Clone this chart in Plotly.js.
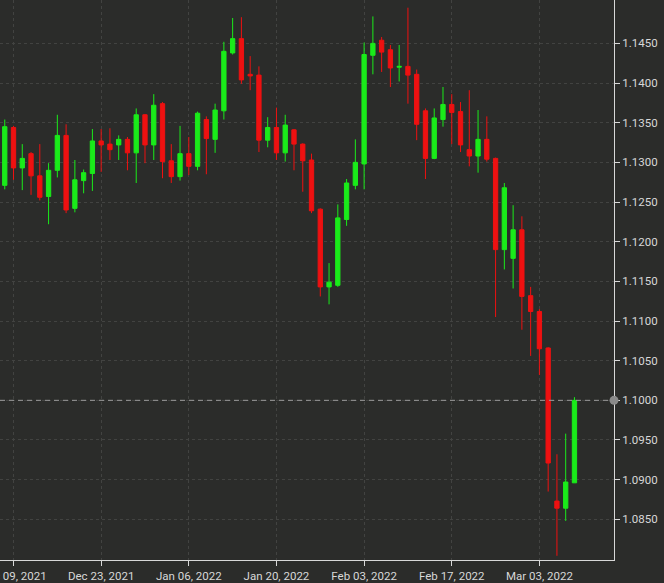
<!DOCTYPE html>
<html>
<head>
<meta charset="utf-8">
<script src="https://cdn.plot.ly/plotly-3.0.1.min.js"></script>
<style>
  html, body { margin: 0; padding: 0; background: #2b2c2a; }
  #chart { width: 664px; height: 583px; }
</style>
</head>
<body>
<div id="chart"></div>
<script>
// EUR/USD daily candles
const dates = [
  '2021-12-08','2021-12-09','2021-12-10','2021-12-13','2021-12-14','2021-12-15','2021-12-16','2021-12-17',
  '2021-12-20','2021-12-21','2021-12-22','2021-12-23','2021-12-24','2021-12-27','2021-12-28','2021-12-29',
  '2021-12-30','2021-12-31','2022-01-03','2022-01-04','2022-01-05','2022-01-06','2022-01-07','2022-01-10',
  '2022-01-11','2022-01-12','2022-01-13','2022-01-14','2022-01-17','2022-01-18','2022-01-19','2022-01-20',
  '2022-01-21','2022-01-24','2022-01-25','2022-01-26','2022-01-27','2022-01-28','2022-01-31','2022-02-01',
  '2022-02-02','2022-02-03','2022-02-04','2022-02-07','2022-02-08','2022-02-09','2022-02-10','2022-02-11',
  '2022-02-14','2022-02-15','2022-02-16','2022-02-17','2022-02-18','2022-02-21','2022-02-22','2022-02-23',
  '2022-02-24','2022-02-25','2022-02-28','2022-03-01','2022-03-02','2022-03-03','2022-03-04','2022-03-07',
  '2022-03-08','2022-03-09'
];
const openP = [
  1.1271,1.1344,1.1293,1.1311,1.1283,1.1257,1.1290,1.1334,
  1.1242,1.1277,1.1286,1.1327,1.1323,1.1322,1.1329,1.1312,
  1.1360,1.1322,1.1374,1.1302,1.1282,1.1311,1.1295,1.1354,
  1.1329,1.1365,1.1438,1.1456,1.1411,1.1410,1.1328,1.1344,
  1.1312,1.1341,1.1323,1.1303,1.1241,1.1143,1.1145,1.1228,
  1.1271,1.1298,1.1435,1.1454,1.1442,1.1420,1.1421,1.1411,
  1.1365,1.1305,1.1354,1.1373,1.1364,1.1316,1.1308,1.1329,
  1.1305,1.1190,1.1179,1.1215,1.1132,1.1112,1.1066,1.0873,
  1.0864,1.0896
];
const highP = [
  1.1354,1.1346,1.1323,1.1313,1.1323,1.1299,1.1360,1.1348,
  1.1303,1.1291,1.1342,1.1342,1.1343,1.1334,1.1332,1.1368,
  1.1361,1.1386,1.1376,1.1323,1.1346,1.1332,1.1364,1.1358,
  1.1374,1.1452,1.1482,1.1483,1.1434,1.1421,1.1357,1.1369,
  1.1360,1.1342,1.1324,1.1311,1.1242,1.1173,1.1247,1.1279,
  1.1329,1.1451,1.1484,1.1458,1.1448,1.1448,1.1495,1.1417,
  1.1368,1.1368,1.1395,1.1386,1.1376,1.1391,1.1366,1.1358,
  1.1306,1.1274,1.1246,1.1232,1.1143,1.1115,1.1067,1.0932,
  1.0958,1.1004
];
const lowP = [
  1.1266,1.1278,1.1265,1.1259,1.1252,1.1222,1.1281,1.1236,
  1.1237,1.1261,1.1264,1.1288,1.1303,1.1303,1.1290,1.1274,
  1.1299,1.1303,1.1280,1.1274,1.1277,1.1284,1.1290,1.1285,
  1.1312,1.1354,1.1436,1.1399,1.1391,1.1313,1.1319,1.1303,
  1.1301,1.1290,1.1263,1.1236,1.1131,1.1121,1.1143,1.1220,
  1.1266,1.1266,1.1411,1.1414,1.1395,1.1402,1.1374,1.1328,
  1.1279,1.1304,1.1345,1.1323,1.1313,1.1295,1.1287,1.1301,
  1.1105,1.1165,1.1141,1.1089,1.1056,1.1032,1.0885,1.0804,
  1.0848,1.0896
];
const closeP = [
  1.1345,1.1293,1.1305,1.1283,1.1256,1.1290,1.1334,1.1240,
  1.1278,1.1287,1.1327,1.1322,1.1316,1.1329,1.1312,1.1360,
  1.1322,1.1372,1.1301,1.1282,1.1311,1.1295,1.1362,1.1330,
  1.1366,1.1440,1.1456,1.1404,1.1409,1.1328,1.1344,1.1312,
  1.1347,1.1323,1.1302,1.1239,1.1143,1.1149,1.1230,1.1274,
  1.1300,1.1436,1.1450,1.1439,1.1419,1.1421,1.1410,1.1348,
  1.1305,1.1356,1.1373,1.1363,1.1322,1.1308,1.1329,1.1304,
  1.1190,1.1268,1.1215,1.1131,1.1112,1.1065,1.0921,1.0864,
  1.0897,1.1000
];
const xTickVals = ['2021-12-09','2021-12-23','2022-01-06','2022-01-20','2022-02-03','2022-02-17','2022-03-03'];
const xTickText = ['Dec 09, 2021','Dec 23, 2021','Jan 06, 2022','Jan 20, 2022','Feb 03, 2022','Feb 17, 2022','Mar 03, 2022'];
const yTickVals = [1.0850,1.0900,1.0950,1.1000,1.1050,1.1100,1.1150,1.1200,1.1250,1.1300,1.1350,1.1400,1.1450];
const lastPrice = 1.1000;

const GREEN = '#1aeb1a';
const RED = '#ee1111';
const BG = '#2b2c2a';
const TXT = '#d8d8d8';
const FONT = 'Roboto, Lato, sans-serif';

const trace = {
  type: 'candlestick',
  x: dates, open: openP, high: highP, low: lowP, close: closeP,
  increasing: { line: { color: GREEN, width: 1 }, fillcolor: GREEN },
  decreasing: { line: { color: RED, width: 1 }, fillcolor: RED },
  whiskerwidth: 0,
  hoverinfo: 'skip',
  showlegend: false
};

const layout = {
  width: 664, height: 583,
  paper_bgcolor: BG, plot_bgcolor: BG,
  margin: { l: 0, r: 50, t: 0, b: 23 },
  font: { family: FONT, size: 11.5, color: TXT },
  showlegend: false,
  xaxis: {
    type: 'date',
    rangebreaks: [{ bounds: ['sat', 'mon'] }],
    range: ['2021-12-07 11:00', '2022-03-15 12:15'],
    rangeslider: { visible: false },
    tickmode: 'array', tickvals: xTickVals, ticktext: xTickText,
    ticks: 'outside', ticklen: 5, tickcolor: TXT, tickwidth: 1,
    showline: true, linecolor: TXT, linewidth: 1,
    showgrid: true, gridcolor: '#424341', griddash: '3px,3px', gridwidth: 1,
    zeroline: false,
    ticklabeloverflow: 'allow',
    tickfont: { family: FONT, size: 11.5, color: TXT },
    fixedrange: true
  },
  yaxis: {
    side: 'right',
    range: [1.07987, 1.15047],
    tickmode: 'array', tickvals: yTickVals,
    tickformat: '.4f',
    ticks: 'outside', ticklen: 5, tickcolor: TXT, tickwidth: 1,
    showline: true, linecolor: TXT, linewidth: 1,
    showgrid: true, gridcolor: '#424341', griddash: '3px,3px', gridwidth: 1,
    zeroline: false,
    tickfont: { family: FONT, size: 11.5, color: TXT },
    fixedrange: true
  },
  shapes: [
    { type: 'line', xref: 'paper', yref: 'y', x0: 0, x1: 1, y0: lastPrice, y1: lastPrice,
      line: { color: '#9a9a9a', width: 1, dash: '5px,4px' }, layer: 'above' },
    { type: 'circle', xref: 'paper', yref: 'y', xsizemode: 'pixel', ysizemode: 'pixel',
      xanchor: 1, yanchor: lastPrice, x0: -4.5, x1: 4.5, y0: -4.5, y1: 4.5,
      fillcolor: '#8a8a8a', line: { width: 0 }, layer: 'above' }
  ]
};

Plotly.newPlot('chart', [trace], layout, { displayModeBar: false, staticPlot: true });
</script>
</body>
</html>
